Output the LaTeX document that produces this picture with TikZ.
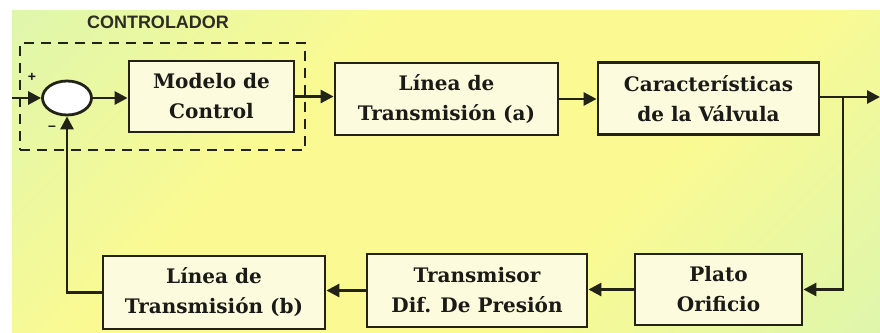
\documentclass[tikz,border=0pt]{standalone}
\usepackage{fontspec}
\setmainfont{DejaVu Serif}
\newfontfamily\labfont{Liberation Sans}
\usetikzlibrary{arrows.meta,shapes.geometric,calc}
\definecolor{bggreen}{RGB}{206,244,186}
\definecolor{bgyellow}{RGB}{251,250,146}
\definecolor{boxfill}{RGB}{253,251,222}
\definecolor{linec}{RGB}{34,34,22}
\definecolor{textc}{RGB}{26,26,22}
\pgfdeclareverticalshading{bgshade}{100bp}{color(0bp)=(bggreen); color(22bp)=(bggreen!45!bgyellow);
  color(38bp)=(bgyellow); color(62bp)=(bgyellow); color(80bp)=(bggreen!50!bgyellow); color(100bp)=(bggreen)}
\begin{document}
\begin{tikzpicture}[x=1pt,y=-1pt,
  blk/.style={draw=linec, line width=2.8pt, fill=boxfill, align=center, inner sep=0pt,
    text=textc, font=\bfseries\fontsize{20}{30}\selectfont},
  arr/.style={draw=linec, line width=2.8pt, -{Triangle[length=13pt,width=13pt]}},
  sign/.style={text=textc, font=\labfont\bfseries\fontsize{14}{14}\selectfont, inner sep=0pt}]
\useasboundingbox (0,0) rectangle (880,332);
\fill[white] (0,0) rectangle (880,332);
\shade[shading=bgshade, shading angle=45] (12,10) rectangle (880,332);

% controller frame
\node[draw=linec, line width=2.8pt, dash pattern=on 10pt off 7pt, minimum width=285pt,
  minimum height=107pt, inner sep=0pt] (ctrl) at (162.5,96.5) {};
\node[text={rgb,255:red,45;green,45;blue,35}, font=\labfont\bfseries\fontsize{18}{18}\selectfont, inner sep=0pt]
  (ctrllab) at (158,22) {CONTROLADOR};

% summing junction
\node[ellipse, draw=linec, line width=2.8pt, fill=white, minimum width=49pt,
  minimum height=34pt, inner sep=0pt] (sum) at (67,98) {};
\node[sign] (plus) at (32,77) {+};
\node[sign] (minus) at (52,128) {–};

% blocks
\node[blk, minimum width=165pt, minimum height=71pt] (mod) at (211.5,96.5) {Modelo de\\Control};
\node[blk, minimum width=223pt, minimum height=72pt] (la) at (446.5,99) {Línea de\\Transmisión (a)};
\node[blk, minimum width=221pt, minimum height=72pt] (car) at (708.5,98.5) {Características\\de la Válvula};
\node[blk, minimum width=167pt, minimum height=71pt] (pl) at (718.5,289.5) {Plato\\Orificio};
\node[blk, minimum width=220pt, minimum height=73pt] (tr) at (477,290.5) {Transmisor\\Dif. De Presión};
\node[blk, minimum width=222pt, minimum height=73pt] (lb) at (214,292.5) {Línea de\\Transmisión (b)};

\coordinate (in) at (12,98);
\coordinate (out) at (880,97);
\coordinate (br) at (843,97);

% connectors
\draw[arr] (in) -- (sum.west);
\draw[arr] (sum.east) -- (sum.east -| mod.west);
\draw[arr] (mod.east) -- (mod.east -| la.west);
\draw[arr] (la.east) -- (la.east -| car.west);
\draw[arr] (car.east |- out) -- (out);
\draw[arr] (br) |- (pl.east);
\draw[arr] (pl.west) -- (pl.west -| tr.east);
\draw[arr] (tr.west) -- (tr.west -| lb.east);
\draw[arr] (lb.west) -| (sum.south);
\end{tikzpicture}
\end{document}
